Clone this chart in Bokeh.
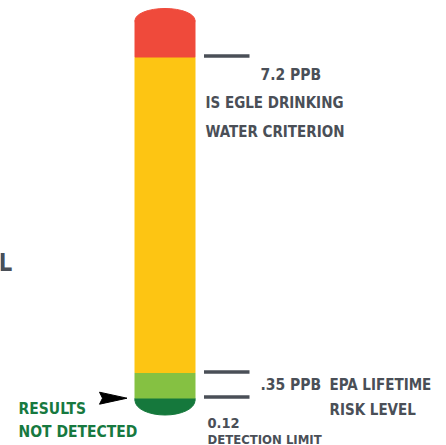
from bokeh.plotting import figure
from bokeh.models import Range1d, ColumnDataSource
from bokeh.core.properties import value
from bokeh.embed import file_html
from bokeh.resources import INLINE

# Thermometer bands, bottom -> top (chart units, y grows downward)
band_names = ["not detected", "below EPA risk level", "below EGLE criterion", "above EGLE criterion"]
band_colors = ["#15783C", "#85C142", "#FDC513", "#EF4A3B"]
band_top = [397.5, 372.0, 56.5, 20.0]
band_bottom = [400.0, 397.5, 372.0, 56.5]

# Threshold markers (ppb) and their leader-line positions
threshold_labels = ["7.2 PPB", ".35 PPB", "0.12"]
threshold_pos = [55.5, 371.5, 396.5]

# Annotation texts
label_text = ["7.2 PPB", "IS EGLE DRINKING", "WATER CRITERION", ".35 PPB",
              "EPA LIFETIME", "RISK LEVEL", "0.12", "DETECTION LIMIT", "L"]
label_x = [260, 205, 205, 260, 329, 329, 207, 207, -2]
label_y = [74.0, 102.5, 131.5, 384.0, 384.0, 409.5, 422.0, 438.5, 262.0]
label_size = ["15.5px", "15px", "15px", "15.5px", "15px", "15px", "14.5px", "13px", "24px"]

result_text = ["RESULTS", "NOT DETECTED"]
result_x = [18, 18]
result_y = [408.0, 431.5]

GRAY = "#4A4F57"
GREEN = "#17793F"
FONT = value("'Liberation Sans Narrow', 'DejaVu Sans Condensed', 'Roboto Condensed', sans-serif")

bar_left, bar_right = 134.5, 194.5
bar_mid = (bar_left + bar_right) / 2
bar_w = bar_right - bar_left

p = figure(width=446, height=445, output_backend="svg", toolbar_location=None,
           x_range=Range1d(0, 446), y_range=Range1d(445, 0),
           x_axis_type=None, y_axis_type=None, min_border=0,
           background_fill_color="white", border_fill_color="white")
p.grid.visible = False
p.outline_line_color = None

# rounded ends
p.ellipse(x=bar_mid, y=band_bottom[0], width=bar_w, height=29, color=band_colors[0])
p.ellipse(x=bar_mid, y=band_top[-1], width=bar_w, height=24, color=band_colors[-1])

src = ColumnDataSource(dict(top=band_top, bottom=band_bottom, color=band_colors, name=band_names))
p.quad(left=bar_left, right=bar_right, top="top", bottom="bottom", color="color", source=src)

# leader lines
p.segment(x0=203.5, x1=249, y0=threshold_pos, y1=threshold_pos, line_width=3.5,
          line_color=GRAY, line_cap="butt")

# arrow pointing at "not detected" band
tip_x, arrow_len, half_h, arrow_y = 126.5, 27.5, 6.0, 397.7
p.patch(x=[tip_x - arrow_len, tip_x, tip_x - arrow_len, tip_x - arrow_len + 3],
        y=[arrow_y - half_h, arrow_y, arrow_y + half_h, arrow_y], color="black")

lsrc = ColumnDataSource(dict(x=label_x, y=label_y, text=label_text, size=label_size))
p.text(x="x", y="y", text="text", source=lsrc, text_font=FONT, text_font_style="bold",
       text_font_size="size", text_color=GRAY, text_baseline="alphabetic", text_align="left")

p.text(x=result_x, y=result_y, text=result_text, text_font=FONT, text_font_style="bold",
       text_font_size="15.5px", text_color=GREEN, text_baseline="alphabetic", text_align="left")

open("out.html", "w").write(file_html(p, INLINE))
